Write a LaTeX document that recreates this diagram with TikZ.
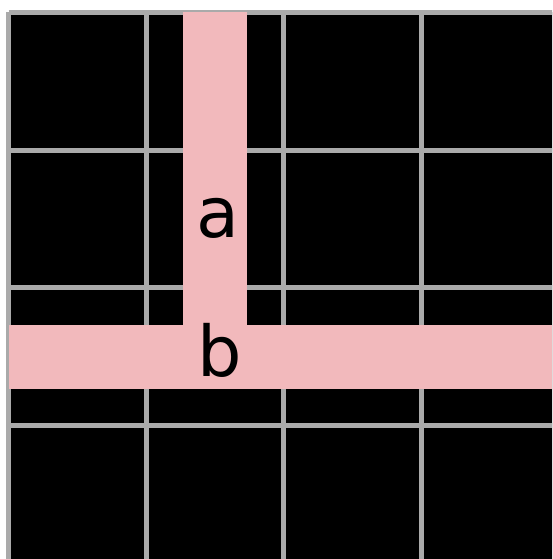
\documentclass[tikz,border=0pt]{standalone}
\usepackage{fontspec}
\setmainfont{DejaVu Sans}
\usepackage{tikz}
\usetikzlibrary{positioning}
\definecolor{barpink}{RGB}{242,185,188}
\definecolor{gridgray}{RGB}{170,170,170}

\begin{document}
\begin{tikzpicture}[
    x=1pt, y=-1pt,
    gridline/.style={draw=gridgray, line width=5pt},
    bar/.style={fill=barpink},
    letter/.style={inner sep=0pt, anchor=base, font=\fontsize{70}{70}\selectfont}
]
    \useasboundingbox (0,0) rectangle (552,559);
    \clip (0,0) rectangle (552,559);
    % Background
    \fill[black] (8.5,12.5) rectangle (560,570);
    % Grid
    \foreach \i in {0,...,4} {
        \draw[gridline] (8.5+137.7*\i,12.5) -- (8.5+137.7*\i,570);
        \draw[gridline] (8.5,12.5+137.7*\i) -- (560,12.5+137.7*\i);
    }
    % Bars
    \fill[bar] (183,12.5) rectangle (247,325);
    \fill[bar] (8.5,325) rectangle (560,389);
    % Labels
    \node[letter] (a) at (217.5,237) {a};
    \node[letter] (b) at (220,376) {b};
\end{tikzpicture}
\end{document}
